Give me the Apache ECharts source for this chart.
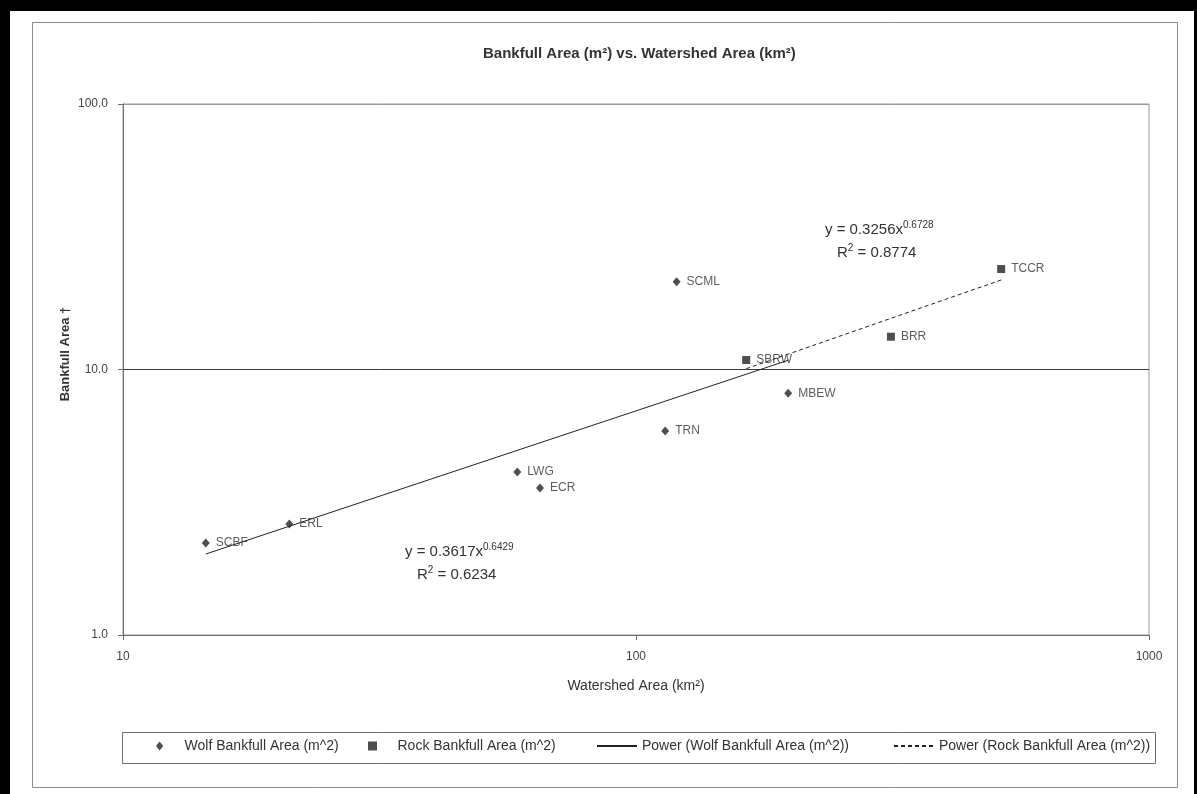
<!DOCTYPE html>
<html>
<head>
<meta charset="utf-8">
<script src="https://cdn.jsdelivr.net/npm/echarts@6/dist/echarts.min.js"></script>
<style>
html,body{margin:0;padding:0;background:#fff;}
#c{width:1197px;height:794px;}
</style>
</head>
<body>
<div id="c"></div>
<script>
// ---- data ----
const wolfNames = ['SCBF', 'ERL', 'LWG', 'ECR', 'TRN', 'SCML', 'MBEW'];
const wolfX = [14.5, 21.1, 58.7, 65.0, 114, 120, 198];
const wolfY = [2.22, 2.62, 4.11, 3.58, 5.87, 21.4, 8.14];
const rockNames = ['SBRW', 'BRR', 'TCCR'];
const rockX = [164, 314, 515];
const rockY = [10.86, 13.29, 23.9];
// power trendlines shown in chart: y = a * x^b
const wolfFit = [0.3617, 0.6429];
const rockFit = [0.3256, 0.6728];
const wolfR2 = '0.6234';
const rockR2 = '0.8774';
const xTicks = [10, 100, 1000];
const yTicks = [1, 10, 100];
const seriesNames = ['Wolf Bankfull Area (m^2)', 'Rock Bankfull Area (m^2)',
  'Power (Wolf Bankfull Area (m^2))', 'Power (Rock Bankfull Area (m^2))'];

const FONT = '"Liberation Sans", Arial, sans-serif';
const INK = '#222';

function pts(xs, ys, names) {
  return xs.map((x, i) => ({ value: [x, ys[i]], name: names[i] }));
}
function fitLine(xs, fit) {
  const lo = Math.min(...xs), hi = Math.max(...xs);
  return [lo, hi].map(x => [x, fit[0] * Math.pow(x, fit[1])]);
}

const chart = echarts.init(document.getElementById('c'), null, { renderer: 'canvas' });

const labelStyle = {
  show: true, position: 'right', distance: 6,
  formatter: p => p.name, color: '#333', fontSize: 12, fontFamily: FONT
};

function legendAt(name, left, icon, extra) {
  return Object.assign({
    data: [icon ? { name: name, icon: icon } : { name: name }],
    left: left, top: 739, padding: 0, itemGap: 0,
    itemWidth: 40, itemHeight: 9, selectedMode: false,
    textStyle: { fontSize: 14, color: '#333', fontFamily: FONT }
  }, extra || {});
}
const hiddenSymbol = { itemStyle: { color: 'rgba(0,0,0,0)', borderColor: 'rgba(0,0,0,0)', borderWidth: 0, opacity: 0 } };

const eqRich = {
  a: { fontSize: 15, fontFamily: FONT, fill: '#333', lineHeight: 20 },
  s: { fontSize: 10, fontFamily: FONT, fill: '#333', verticalAlign: 'top', lineHeight: 10 }
};

const option = {
  backgroundColor: '#fff',
  animation: false,
  title: {
    text: 'Bankfull Area (m²) vs. Watershed Area (km²)',
    left: 478, top: 41,
    textStyle: { fontSize: 15, fontWeight: 'bold', color: '#333', fontFamily: FONT }
  },
  grid: {
    left: 123, right: 48, top: 104, bottom: 159,
    show: true, borderColor: '#9a9a9a', borderWidth: 1, backgroundColor: 'transparent'
  },
  xAxis: {
    type: 'log', logBase: 10, min: xTicks[0], max: xTicks[xTicks.length - 1],
    name: 'Watershed Area (km²)', nameLocation: 'middle', nameGap: 44,
    nameTextStyle: { fontSize: 14, color: '#333', fontFamily: FONT },
    axisLine: { lineStyle: { color: '#6e6e6e', width: 1 } },
    axisTick: { show: true, length: 5, lineStyle: { color: '#6e6e6e' } },
    axisLabel: { margin: 16, fontSize: 12, color: '#444', fontFamily: FONT, formatter: v => String(Math.round(v)) },
    splitLine: { show: false },
    minorTick: { show: false }
  },
  yAxis: {
    type: 'log', logBase: 10, min: yTicks[0], max: yTicks[yTicks.length - 1],
    axisLine: { show: true, lineStyle: { color: '#6e6e6e', width: 1 } },
    axisTick: { show: true, length: 5, lineStyle: { color: '#6e6e6e' } },
    axisLabel: { margin: 15, fontSize: 12, color: '#444', fontFamily: FONT, formatter: v => Number(v).toFixed(1) },
    splitLine: { show: true, lineStyle: { color: ['#6e6e6e', '#3a3a3a', '#9a9a9a'], width: 1 } }
  },
  legend: [
    legendAt(seriesNames[0], 156, 'path://M0,-5L4,0L0,5L-4,0Z'),
    legendAt(seriesNames[1], 368, 'path://M0,0L8,0L8,8L0,8Z'),
    legendAt(seriesNames[2], 596, null, hiddenSymbol),
    legendAt(seriesNames[3], 893, null, hiddenSymbol)
  ],
  series: [
    {
      name: seriesNames[0], type: 'scatter', symbol: 'diamond', symbolSize: [8, 9],
      itemStyle: { color: INK }, label: labelStyle,
      data: pts(wolfX, wolfY, wolfNames), z: 5
    },
    {
      name: seriesNames[1], type: 'scatter', symbol: 'rect', symbolSize: 8,
      itemStyle: { color: INK }, label: labelStyle,
      data: pts(rockX, rockY, rockNames), z: 5
    },
    {
      name: seriesNames[2], type: 'line', symbol: 'none', silent: true,
      lineStyle: { color: INK, width: 1, type: 'solid' }, itemStyle: { color: INK },
      data: fitLine(wolfX, wolfFit), z: 4
    },
    {
      name: seriesNames[3], type: 'line', symbol: 'none', silent: true,
      lineStyle: { color: INK, width: 1, type: [4, 3] }, itemStyle: { color: INK },
      data: fitLine(rockX, rockFit), z: 4
    }
  ],
  graphic: [
    // outer chart frame
    { type: 'rect', shape: { x: 32.5, y: 22.5, width: 1145, height: 765 }, style: { fill: 'none', stroke: '#8a8a8a', lineWidth: 1 }, z: -1 },
    // black bands of the scan
    { type: 'rect', shape: { x: 0, y: 0, width: 1197, height: 11 }, style: { fill: '#000' }, z: 100 },
    { type: 'rect', shape: { x: 0, y: 0, width: 10, height: 794 }, style: { fill: '#000' }, z: 100 },
    { type: 'rect', shape: { x: 1194, y: 0, width: 3, height: 794 }, style: { fill: '#000' }, z: 100 },
    // legend box
    { type: 'rect', shape: { x: 122.5, y: 732.5, width: 1033, height: 31 }, style: { fill: 'none', stroke: '#6e6e6e', lineWidth: 1 }, z: 1 },
    // y axis title
    { type: 'text', x: 65, y: 354, rotation: Math.PI / 2,
      style: { text: 'Bankfull Area †', fontSize: 13, fontWeight: 'bold', fill: '#333', fontFamily: FONT, align: 'center', verticalAlign: 'middle' } },
    // trendline equations
    { type: 'text', x: 405, y: 552,
      style: { text: '{a|y = ' + wolfFit[0] + 'x}{s|' + wolfFit[1] + '}', verticalAlign: 'middle', fill: '#333', rich: eqRich } },
    { type: 'text', x: 417, y: 575,
      style: { text: '{a|R}{s|2}{a| = ' + wolfR2 + '}', verticalAlign: 'middle', fill: '#333', rich: eqRich } },
    { type: 'text', x: 825, y: 230,
      style: { text: '{a|y = ' + rockFit[0] + 'x}{s|' + rockFit[1] + '}', verticalAlign: 'middle', fill: '#333', rich: eqRich } },
    { type: 'text', x: 837, y: 253,
      style: { text: '{a|R}{s|2}{a| = ' + rockR2 + '}', verticalAlign: 'middle', fill: '#333', rich: eqRich } }
  ]
};
chart.setOption(option);
</script>
</body>
</html>
